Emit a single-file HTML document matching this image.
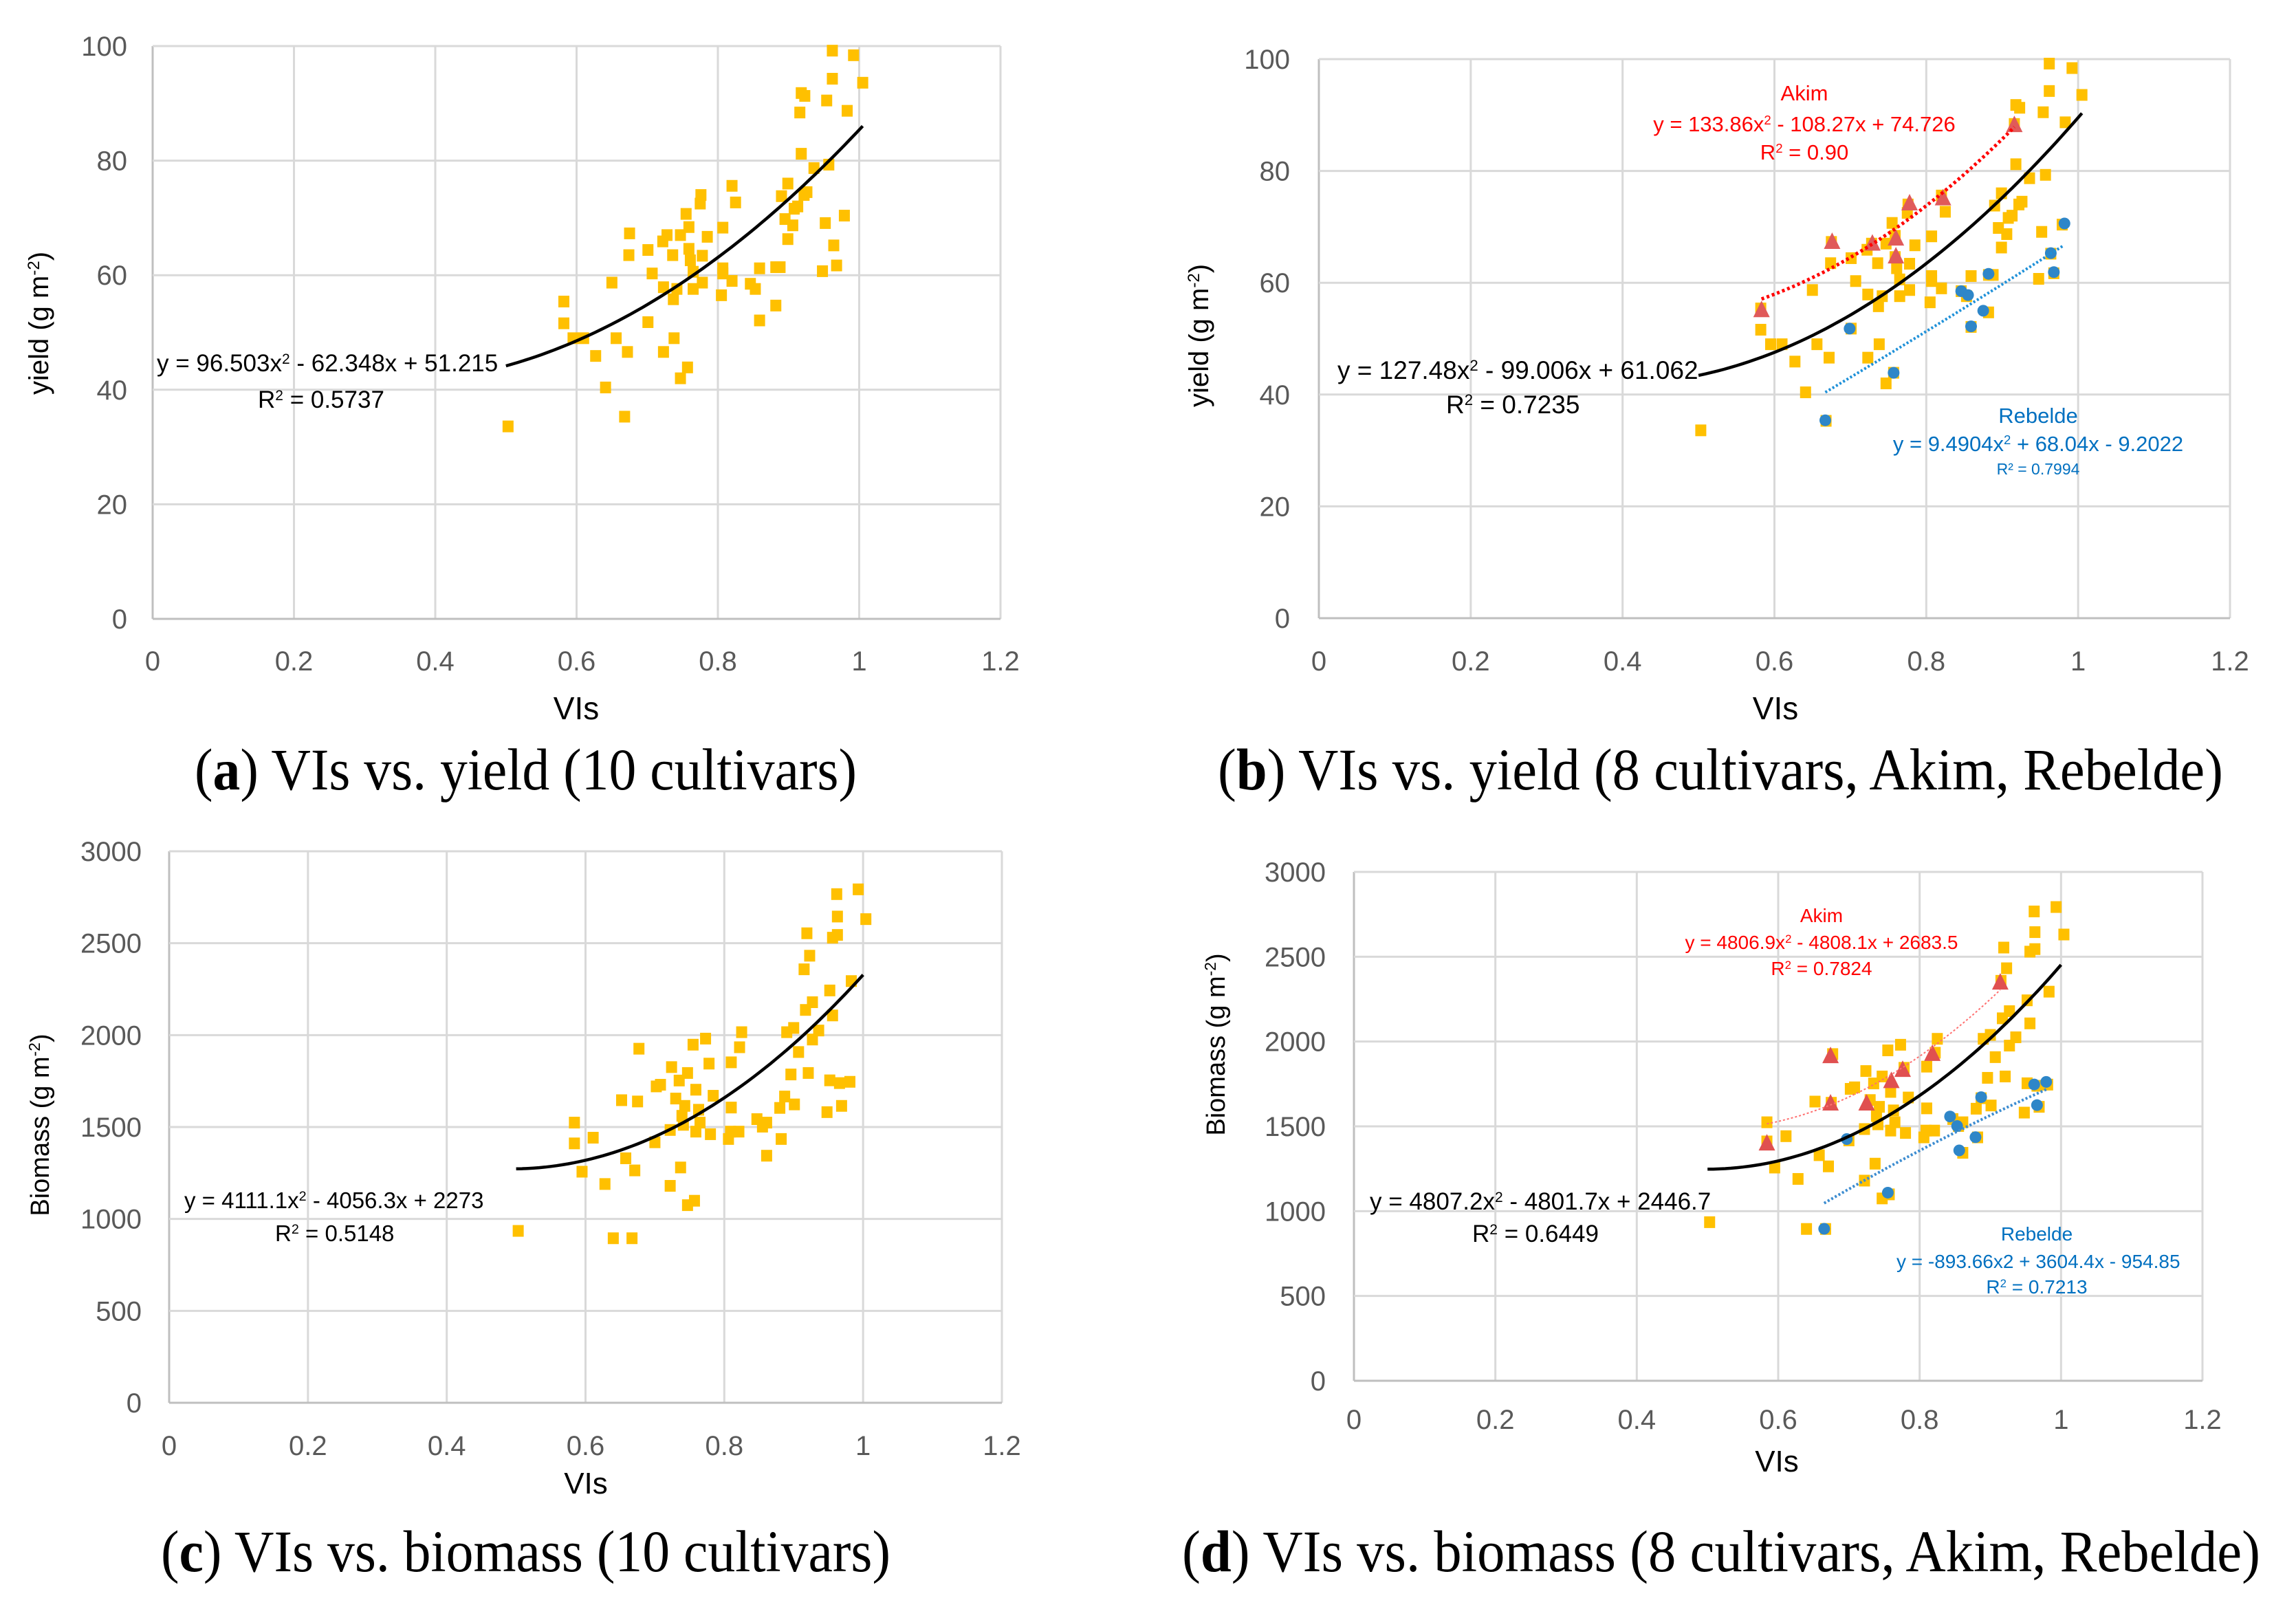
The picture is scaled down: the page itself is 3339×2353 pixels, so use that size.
<!DOCTYPE html>
<html><head><meta charset="utf-8">
<style>
html,body{margin:0;padding:0;background:#fff;}
svg{display:block;}
.tk{font-family:"Liberation Sans Narrow","Liberation Sans",sans-serif;fill:#595959;font-size:40px;}
.eq{font-family:"Liberation Sans Narrow","Liberation Sans",sans-serif;}
.ti{font-family:"Liberation Sans",sans-serif;fill:#000;}
.cap{font-family:"Liberation Serif",serif;fill:#000;font-size:86px;}
</style></head>
<body>
<svg id="fig" width="3339" height="2353" viewBox="0 0 3339 2353" xmlns="http://www.w3.org/2000/svg">
<rect width="3339" height="2353" fill="#fff"/>
<g id="layer"></g>
<text class="cap" x="283" y="1148" textLength="963" lengthAdjust="spacingAndGlyphs">(<tspan font-weight="bold">a</tspan>) VIs vs. yield (10 cultivars)</text>
<text class="cap" x="1771" y="1148" textLength="1462" lengthAdjust="spacingAndGlyphs">(<tspan font-weight="bold">b</tspan>) VIs vs. yield (8 cultivars, Akim, Rebelde)</text>
<text class="cap" x="234" y="2285" textLength="1061" lengthAdjust="spacingAndGlyphs">(<tspan font-weight="bold">c</tspan>) VIs vs. biomass (10 cultivars)</text>
<text class="cap" x="1719" y="2285" textLength="1568" lengthAdjust="spacingAndGlyphs">(<tspan font-weight="bold">d</tspan>) VIs vs. biomass (8 cultivars, Akim, Rebelde)</text>
</svg>
<script>
// ---- data ----
const yieldVI = [0.503,0.582,0.582,0.595,0.610,0.627,0.641,0.650,0.656,0.668,0.672,0.675,0.674,0.701,0.701,0.707,0.722,0.728,0.723,0.723,0.736,0.737,0.738,0.742,0.747,0.755,0.747,0.757,0.759,0.759,0.761,0.765,0.765,0.775,0.776,0.778,0.778,0.785,0.807,0.807,0.807,0.805,0.820,0.820,0.825,0.846,0.853,0.859,0.859,0.882,0.882,0.888,0.890,0.899,0.895,0.899,0.906,0.908,0.913,0.916,0.918,0.923,0.918,0.922,0.926,0.936,0.948,0.952,0.954,0.957,0.962,0.962,0.964,0.968,0.979,0.983,0.992,1.005];
const yieldVal = [33.6,55.4,51.6,49.0,49.0,45.9,40.4,58.7,49.0,35.3,46.6,67.3,63.5,64.4,51.8,60.3,65.9,67.0,57.9,46.6,63.5,55.8,49.0,57.6,67.0,70.7,42.0,43.9,68.4,64.6,62.6,60.6,57.6,72.5,74.0,63.4,58.7,66.7,68.3,61.2,60.3,56.5,59.0,75.6,72.7,58.5,57.6,61.2,52.1,61.4,54.7,61.4,73.8,76.0,69.8,66.3,68.7,71.6,72.0,88.4,91.8,91.3,81.2,74.0,74.5,78.7,60.7,69.1,90.5,79.3,99.2,94.3,65.2,61.7,70.4,88.7,98.4,93.6];
const akimYieldVI = [0.583,0.676,0.729,0.760,0.760,0.778,0.822,0.916];
const akimYieldVal = [55.2,67.4,67.1,68.0,64.8,74.3,75.2,88.3];
const rebYieldVI = [0.667,0.699,0.757,0.846,0.855,0.859,0.875,0.882,0.964,0.968,0.982];
const rebYieldVal = [35.4,51.8,43.9,58.5,57.8,52.2,55.0,61.6,65.3,61.9,70.6];
const bioVI = [0.503,0.584,0.584,0.611,0.595,0.628,0.640,0.667,0.652,0.675,0.677,0.658,0.671,0.700,0.702,0.708,0.722,0.722,0.724,0.730,0.735,0.737,0.747,0.747,0.757,0.755,0.773,0.759,0.759,0.743,0.739,0.741,0.763,0.765,0.784,0.778,0.780,0.810,0.810,0.822,0.825,0.806,0.809,0.821,0.847,0.855,0.861,0.861,0.880,0.882,0.887,0.901,0.890,0.900,0.896,0.907,0.917,0.927,0.915,0.923,0.919,0.921,0.936,0.927,0.952,0.956,0.952,0.948,0.956,0.963,0.963,0.962,0.966,0.969,0.981,0.983,0.993,1.004];
const bioVal = [935,1524,1411,1442,1257,1190,895,895,1646,1639,1926,1330,1264,1417,1721,1730,1180,1484,1826,1655,1753,1280,1794,1075,1099,1948,1981,1703,1475,1615,1561,1512,1594,1524,1670,1845,1461,1606,1852,1934,2016,1435,1475,1475,1543,1502,1524,1344,1604,1435,1666,1623,2016,2039,1786,1908,2137,2179,2358,2432,2554,1794,2025,1976,2243,2107,1754,1581,2530,2545,2645,2767,1739,1615,1746,2294,2793,2631];
const akimBioVI = [0.584,0.674,0.674,0.725,0.760,0.776,0.818,0.914];
const akimBioVal = [1402,1638,1917,1638,1770,1836,1930,2351];
const rebBioVI = [0.665,0.697,0.755,0.843,0.853,0.856,0.879,0.887,0.962,0.979,0.966];
const rebBioVal = [896,1425,1109,1558,1502,1358,1436,1672,1747,1762,1625];
const fitA = [96.503,-62.348,51.215];
const fitB = [127.48,-99.006,61.062];
const fitBAkim = [133.86,-108.27,74.726];
const fitBReb = [9.4904,68.04,-9.2022];
const fitC = [4111.1,-4056.3,2273];
const fitD = [4807.2,-4801.7,2446.7];
const fitDAkim = [4806.9,-4808.1,2683.5];
const fitDReb = [-893.66,3604.4,-954.85];
const xTicks = ["0","0.2","0.4","0.6","0.8","1","1.2"];
const xTickVals = [0,0.2,0.4,0.6,0.8,1,1.2];
const yieldTicks = [0,20,40,60,80,100];
const bioTicks = [0,500,1000,1500,2000,2500,3000];

const NS = "http://www.w3.org/2000/svg";
const layer = document.getElementById("layer");
function el(tag, parent){ const e=document.createElementNS(NS,tag); (parent||layer).appendChild(e); return e; }

function panel(id, geom, ymax, yTicksArr){
  const g = el("g");
  
  
  const sx = v => geom.x0 + v/1.2*(geom.x1-geom.x0);
  const sy = v => geom.y0 - v/ymax*(geom.y0-geom.yt);
  xTickVals.forEach((v,i)=>{
    const l = el("line", g);
    
    
    l.setAttribute("x1",sx(v)); l.setAttribute("x2",sx(v));
    l.setAttribute("y1",geom.yt); l.setAttribute("y2",geom.y0);
    l.setAttribute("stroke", i===0?"#bfbfbf":"#d9d9d9"); l.setAttribute("stroke-width","3");
    const t = el("text", g);
    
    
    t.setAttribute("class","tk"); t.setAttribute("x",sx(v)); t.setAttribute("y",geom.xl);
    t.setAttribute("text-anchor","middle"); t.textContent = xTicks[i];
  });
  yTicksArr.forEach((v,i)=>{
    const l = el("line", g);
    
    
    l.setAttribute("x1",geom.x0); l.setAttribute("x2",geom.x1);
    l.setAttribute("y1",sy(v)); l.setAttribute("y2",sy(v));
    l.setAttribute("stroke", i===0?"#bfbfbf":"#d9d9d9"); l.setAttribute("stroke-width","3");
    const t = el("text", g);
    
    
    t.setAttribute("class","tk"); t.setAttribute("x",geom.yl); t.setAttribute("y",sy(v)+14);
    t.setAttribute("text-anchor","end"); t.textContent = String(v);
  });
  return {g,sx,sy};
}

function squares(p, xs, ys, name){
  xs.forEach((x,i)=>{
    const r = el("rect", p.g);
    
    
    r.setAttribute("x", p.sx(x)-8); r.setAttribute("y", p.sy(ys[i])-8.5);
    r.setAttribute("width",16); r.setAttribute("height",17); r.setAttribute("fill","#FFC000");
  });
}
function tris(p, xs, ys, name, color){
  xs.forEach((x,i)=>{
    const cx=p.sx(x), cy=p.sy(ys[i]);
    const t = el("polygon", p.g);
    
    
    t.setAttribute("points", `${cx},${cy-13} ${cx-12},${cy+11} ${cx+12},${cy+11}`);
    t.setAttribute("fill", color);
  });
}
function dots(p, xs, ys, name, color){
  xs.forEach((x,i)=>{
    const c = el("circle", p.g);
    
    
    c.setAttribute("cx", p.sx(x)); c.setAttribute("cy", p.sy(ys[i])); c.setAttribute("r", 8.5);
    c.setAttribute("fill", color);
  });
}
function curve(p, co, x0, x1, name, color, w, dash){
  let d="";
  for(let k=0;k<=60;k++){ const x=x0+(x1-x0)*k/60; const y=co[0]*x*x+co[1]*x+co[2];
    d += (k?"L":"M")+p.sx(x).toFixed(1)+","+p.sy(y).toFixed(1); }
  const pa = el("path", p.g);
  
  
  pa.setAttribute("d", d); pa.setAttribute("fill","none"); pa.setAttribute("stroke",color);
  pa.setAttribute("stroke-width", w); if(dash) pa.setAttribute("stroke-dasharray", dash);
}
function label(p, txt, x, y, name, size, color, anchor, cls, sup){
  const t = el("text", p.g);
  
  
  t.setAttribute("class", cls||"eq"); t.setAttribute("x",x); t.setAttribute("y",y);
  t.setAttribute("font-size", size);
  t.style.fill = color||"#000";
  if(anchor) t.setAttribute("text-anchor", anchor);
  if(sup){ const parts = txt.split("^2");
    t.appendChild(document.createTextNode(parts[0]));
    const s = el("tspan", t); s.setAttribute("baseline-shift","super"); s.setAttribute("font-size", size*0.6); s.textContent="2";
    t.appendChild(document.createTextNode(parts[1]||""));
  } else t.textContent = txt;
  return t;
}
function ytitle(p, txt, x, y, size){
  const t = el("text", p.g);
  
  
  t.setAttribute("class","ti"); t.setAttribute("font-size",size);
  t.setAttribute("text-anchor","middle"); t.setAttribute("transform",`translate(${x},${y}) rotate(-90)`);
  t.appendChild(document.createTextNode(txt));
  const s = el("tspan", t); s.setAttribute("baseline-shift","super"); s.setAttribute("font-size", size*0.6); s.textContent="-2";
  t.appendChild(document.createTextNode(")"));
}

// Panel A
const A = panel("a", {x0:222,x1:1455,y0:900,yt:67,xl:975,yl:185}, 100, yieldTicks);
squares(A, yieldVI, yieldVal, "yield-point");
curve(A, fitA, 0.5, 1.005, "trendline-all", "#000", 4.5);
label(A, "y = 96.503x^2 - 62.348x + 51.215", 228, 540, "trend-equation", 35, "#000", null, "eq", true);
label(A, "R^2 = 0.5737", 375, 593, "r-squared", 35, "#000", null, "eq", true);
label(A, "VIs", 838, 1046, "x-axis-title", 46, "#000", "middle", "eq");
ytitle(A, "yield (g m", 70, 470, 40);

// Panel B
const B = panel("b", {x0:1918,x1:3243,y0:899,yt:86,xl:975,yl:1876}, 100, yieldTicks);
squares(B, yieldVI, yieldVal, "yield-point");
tris(B, akimYieldVI, akimYieldVal, "akim-point", "#E05A5A");
dots(B, rebYieldVI, rebYieldVal, "rebelde-point", "#2E86C8");
curve(B, fitB, 0.5, 1.005, "trendline-all", "#000", 4.5);
curve(B, fitBAkim, 0.583, 0.916, "trendline-akim", "#FF0000", 5, "4 4");
curve(B, fitBReb, 0.667, 0.98, "trendline-rebelde", "#1E90D8", 4, "3 3");
label(B, "y = 127.48x^2 - 99.006x + 61.062", 1945, 551, "trend-equation", 37, "#000", null, "eq", true);
label(B, "R^2 = 0.7235", 2103, 601, "r-squared", 37, "#000", null, "eq", true);
label(B, "Akim", 2624, 146, "akim-label", 31, "#FF0000", "middle", "eq");
label(B, "y = 133.86x^2 - 108.27x + 74.726", 2624, 191, "akim-equation", 31, "#FF0000", "middle", "eq", true);
label(B, "R^2 = 0.90", 2624, 232, "akim-r-squared", 31, "#FF0000", "middle", "eq", true);
label(B, "Rebelde", 2964, 615, "rebelde-label", 31, "#0070C0", "middle", "eq");
label(B, "y = 9.4904x^2 + 68.04x - 9.2022", 2964, 656, "rebelde-equation", 31, "#0070C0", "middle", "eq", true);
label(B, "R² = 0.7994", 2964, 690, "rebelde-r-squared", 23, "#0070C0", "middle", "eq");
label(B, "VIs", 2582, 1046, "x-axis-title", 46, "#000", "middle", "eq");
ytitle(B, "yield (g m", 1757, 488, 40);

// Panel C
const C = panel("c", {x0:246,x1:1457,y0:2040,yt:1238,xl:2116,yl:206}, 3000, bioTicks);
squares(C, bioVI, bioVal, "biomass-point");
curve(C, fitC, 0.5, 1.0, "trendline-all", "#000", 4.5);
label(C, "y = 4111.1x^2 - 4056.3x + 2273", 268, 1757, "trend-equation", 33, "#000", null, "eq", true);
label(C, "R^2 = 0.5148", 400, 1805, "r-squared", 33, "#000", null, "eq", true);
label(C, "VIs", 852, 2172, "x-axis-title", 44, "#000", "middle", "eq");
ytitle(C, "Biomass (g m", 71, 1636, 38);

// Panel D
const D = panel("d", {x0:1969,x1:3203,y0:2008,yt:1268,xl:2078,yl:1928}, 3000, bioTicks);
squares(D, bioVI, bioVal, "biomass-point");
tris(D, akimBioVI, akimBioVal, "akim-point", "#E05050");
dots(D, rebBioVI, rebBioVal, "rebelde-point", "#2E86C8");
curve(D, fitD, 0.5, 1.0, "trendline-all", "#000", 4.5);
curve(D, fitDAkim, 0.584, 0.914, "trendline-akim", "#FF7070", 2, "3 3");
curve(D, fitDReb, 0.665, 0.98, "trendline-rebelde", "#3C8CD0", 4, "3 3");
label(D, "y = 4807.2x^2 - 4801.7x + 2446.7", 1992, 1759, "trend-equation", 35, "#000", null, "eq", true);
label(D, "R^2 = 0.6449", 2141, 1806, "r-squared", 35, "#000", null, "eq", true);
label(D, "Akim", 2649, 1341, "akim-label", 28, "#FF0000", "middle", "eq");
label(D, "y = 4806.9x^2 - 4808.1x + 2683.5", 2649, 1380, "akim-equation", 28, "#FF0000", "middle", "eq", true);
label(D, "R^2 = 0.7824", 2649, 1418, "akim-r-squared", 28, "#FF0000", "middle", "eq", true);
label(D, "Rebelde", 2962, 1804, "rebelde-label", 28, "#0070C0", "middle", "eq");
label(D, "y = -893.66x2 + 3604.4x - 954.85", 2758, 1844, "rebelde-equation", 28, "#0070C0", null, "eq");
label(D, "R^2 = 0.7213", 2962, 1881, "rebelde-r-squared", 28, "#0070C0", "middle", "eq", true);
label(D, "VIs", 2584, 2140, "x-axis-title", 44, "#000", "middle", "eq");
ytitle(D, "Biomass (g m", 1781, 1519, 38);
</script>
</body></html>
